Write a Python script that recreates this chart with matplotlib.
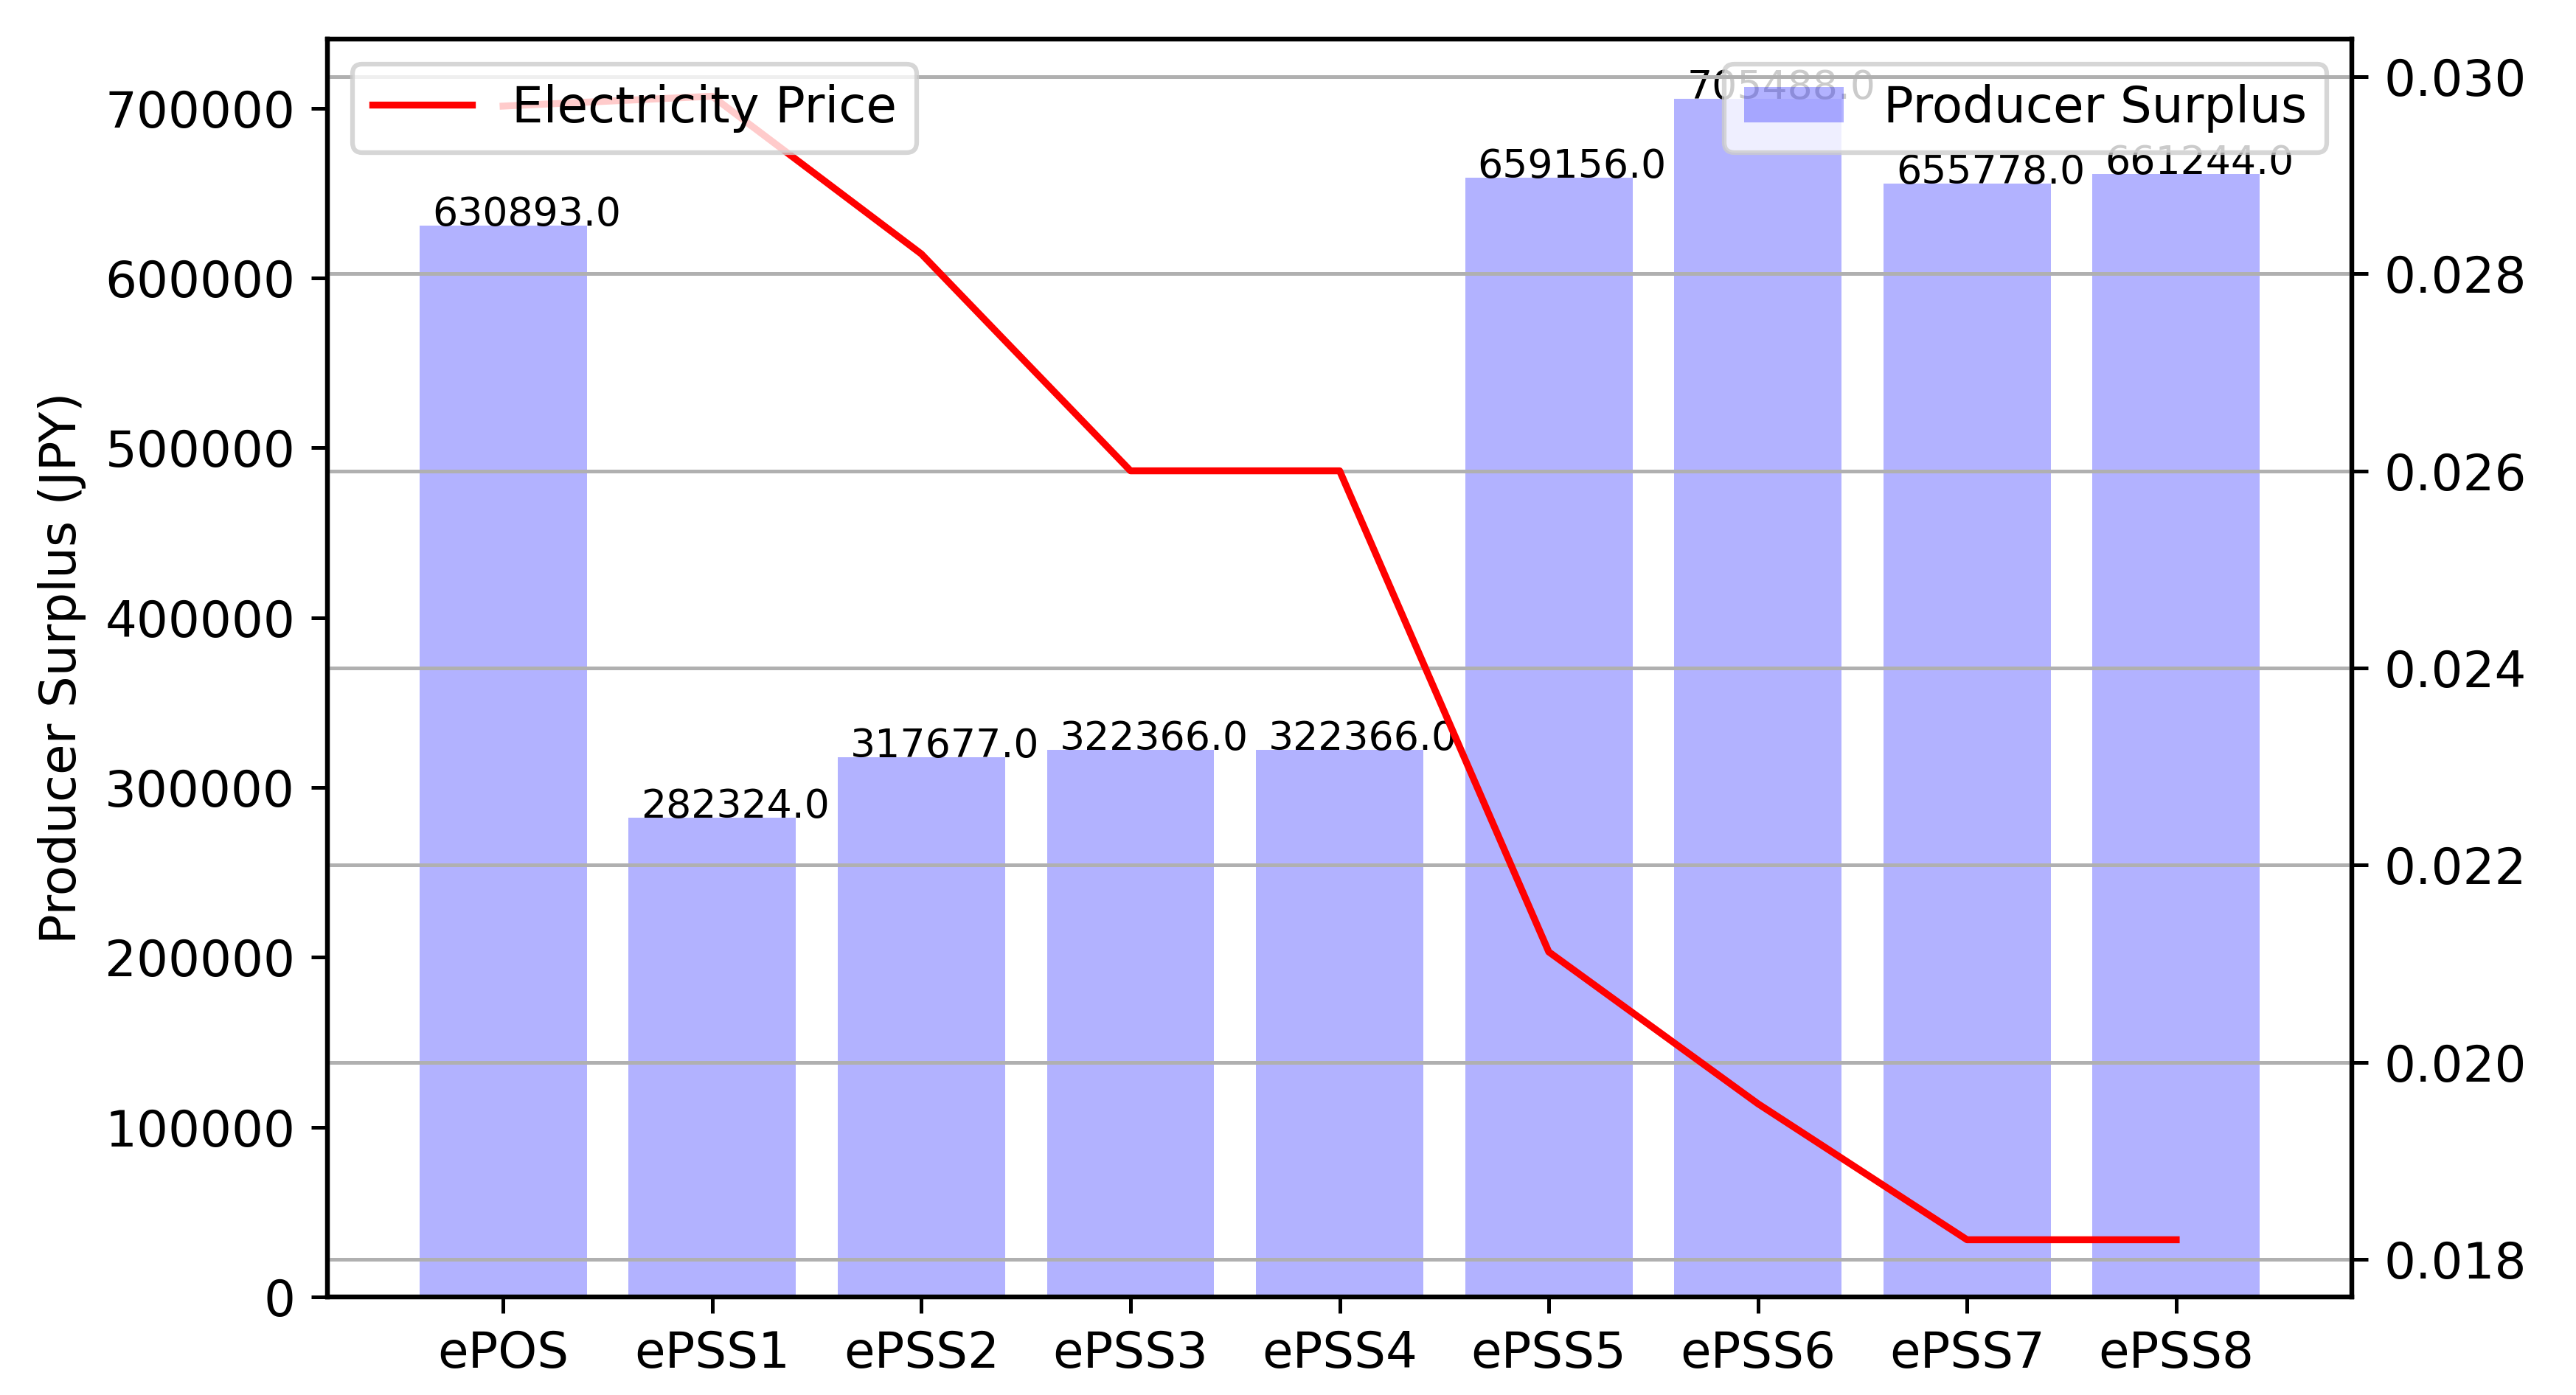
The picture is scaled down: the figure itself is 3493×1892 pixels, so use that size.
import matplotlib
matplotlib.use("Agg")
import matplotlib.pyplot as plt
import numpy as np

# scenarios and results
scenarios = ['ePOS', 'ePSS1', 'ePSS2', 'ePSS3', 'ePSS4', 'ePSS5', 'ePSS6', 'ePSS7', 'ePSS8']
producer_surplus = [630893.0, 282324.0, 317677.0, 322366.0, 322366.0, 659156.0, 705488.0, 655778.0, 661244.0]
electricity_price = [0.0297, 0.0298, 0.0282, 0.0260, 0.0260, 0.02112, 0.01958, 0.0182, 0.0182]

plt.rcParams['font.size'] = 10.8
plt.rcParams['axes.linewidth'] = 1.0

fig = plt.figure(figsize=(3493/450, 1892/450), dpi=450)
ax = fig.add_axes([0.1271, 0.0703, 0.7859, 0.9017])
x = np.arange(len(scenarios))

# bars for producer surplus
ax.bar(x, producer_surplus, color='b', alpha=0.3, label='Producer Surplus')
for i, v in enumerate(producer_surplus):
    ax.text(i - 0.34, v, str(v), fontsize=8.6)
ax.set_xticks(x)
ax.set_xticklabels(scenarios)
ax.set_ylabel('Producer Surplus (JPY)')
ax.legend(loc='upper right')

# price on the second axis
ax2 = ax.twinx()
ax2.plot(x, electricity_price, color='r', label='Electricity Price')
ax2.grid(axis='y')
ax2.legend(loc='upper left')

fig.savefig('out.png', dpi=450)
